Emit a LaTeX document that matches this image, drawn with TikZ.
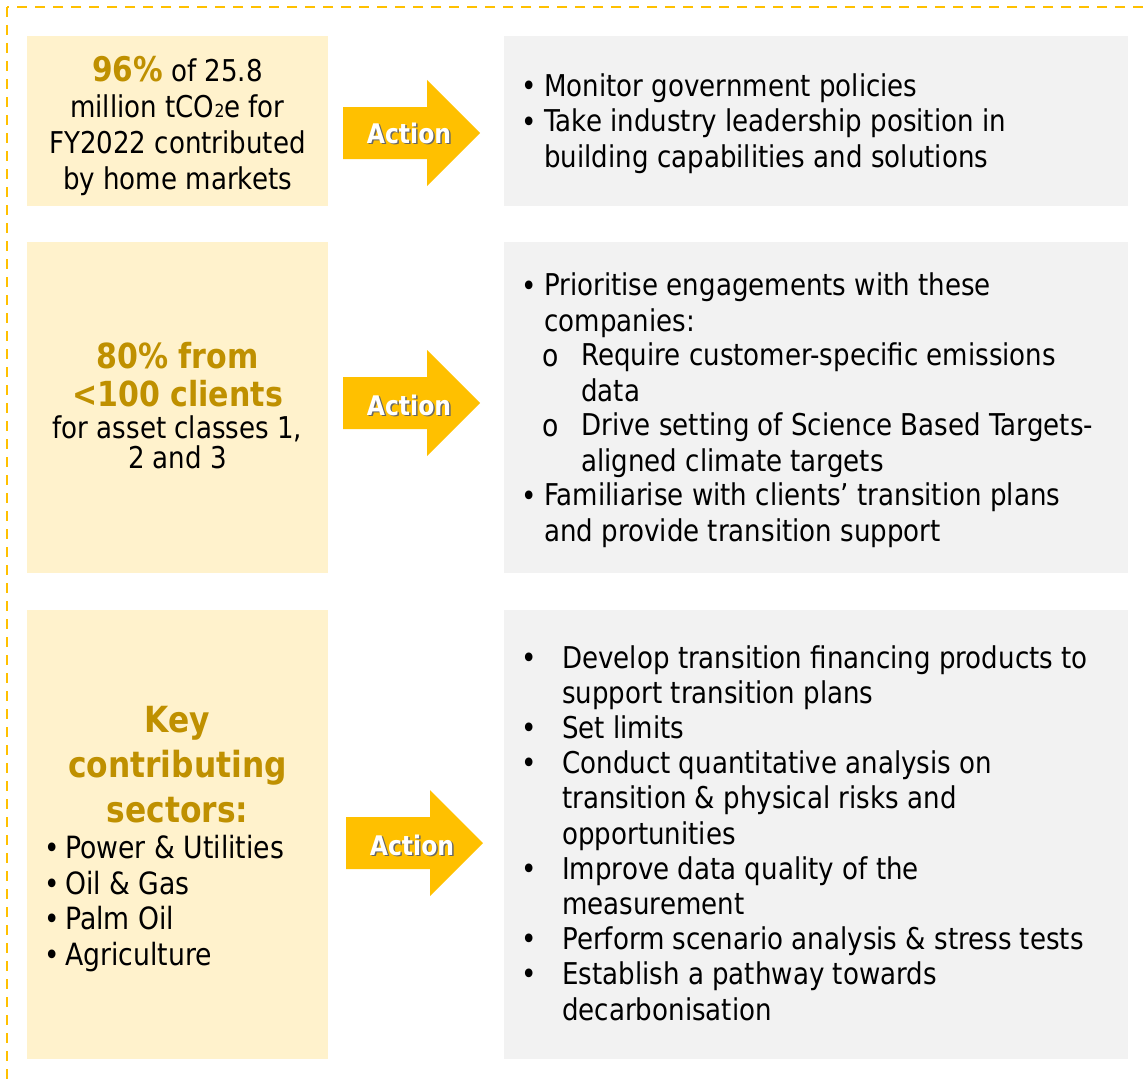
\documentclass[tikz,border=0pt]{standalone}
\usepackage{fontspec}
\setmainfont{DejaVu Sans}[FakeStretch=0.87]
\usepackage{tikz}
\definecolor{framegold}{RGB}{255,192,0}
\definecolor{paleyellow}{RGB}{255,242,204}
\definecolor{panelgrey}{RGB}{242,242,242}
\definecolor{darkgold}{RGB}{191,144,0}

\begin{document}
\begin{tikzpicture}[x=0.75pt, y=-0.75pt,
    lead/.style={fill=paleyellow},
    panel/.style={fill=panelgrey},
    go/.style={fill=framegold},
    body/.style={inner sep=0pt, anchor=base west, align=left, font=\fontsize{22.5}{26.4}\selectfont},
    dot/.style={inner sep=0pt, anchor=base, font=\fontsize{22.5}{26.4}\selectfont},
    ring/.style={inner sep=0pt, anchor=base, font=\fontsize{23}{24}\selectfont},
    keyline/.style={inner sep=0pt, anchor=base, align=center, text=darkgold},
    action/.style={inner sep=0pt, text=white, font=\fontsize{20.25}{22}\selectfont\bfseries}]
    \useasboundingbox (0,0) rectangle (1145,1081);
    \clip (0,0) rectangle (1145,1081);

    % outer dashed frame
    \draw[framegold, line width=1.9pt, dash pattern=on 7.5pt off 6pt] (7,7) rectangle (1165,1100);

    % left and right panels
    \fill[lead] (27,36) rectangle (328,206);
    \fill[panel] (504,36) rectangle (1128,206);
    \fill[lead] (27,242) rectangle (328,573);
    \fill[panel] (504,242) rectangle (1128,573);
    \fill[lead] (27,610) rectangle (328,1059);
    \fill[panel] (504,610) rectangle (1128,1059);

    % block arrows
    \coordinate (tail1) at (343,133);
    \coordinate (tail2) at (343,403);
    \coordinate (tail3) at (346,843);
    \fill[go] (tail1) ++(0,-26) -- ++(84,0) -- ++(0,-27) -- ++(53,53) -- ++(-53,53) -- ++(0,-27) -- ++(-84,0) -- cycle;
    \fill[go] (tail2) ++(0,-26) -- ++(84,0) -- ++(0,-27) -- ++(53,53) -- ++(-53,53) -- ++(0,-27) -- ++(-84,0) -- cycle;
    \fill[go] (tail3) ++(0,-26) -- ++(84,0) -- ++(0,-27) -- ++(53,53) -- ++(-53,53) -- ++(0,-27) -- ++(-84,0) -- cycle;
    \node[action, text=black!60] (act1s) at (410.5,134.5) {Action};
    \node[action] (act1) at (409,133) {Action};
    \node[action, text=black!60] (act2s) at (410.5,406.5) {Action};
    \node[action] (act2) at (409,405) {Action};
    \node[action, text=black!60] (act3s) at (413.5,846.5) {Action};
    \node[action] (act3) at (412,845) {Action};

    % first row (multi-line nodes sit on their last baseline)
    \node[keyline, text=black, font=\fontsize{22.5}{26.8}\selectfont] (share) at (177.5,189)
        {{\fontsize{25.5}{26.8}\selectfont\bfseries\color{darkgold}96\%} of 25.8\\
         million tCO{\fontsize{13.5}{14}\selectfont 2}e for\\
         FY2022 contributed\\
         by home markets};
    \node[dot] (b11) at (529,97) {\textbullet};
    \node[body] (t11) at (544,97) {Monitor government policies};
    \node[dot] (b12) at (529,132) {\textbullet};
    \node[body] (t12) at (544,167) {Take industry leadership position in\\building capabilities and solutions};

    % second row
    \node[keyline, font=\fontsize{25.9}{28.5}\selectfont\bfseries] (clients) at (177.5,406)
        {80\% from\\<100 clients};
    \node[keyline, text=black, font=\fontsize{22.5}{22.5}\selectfont] (classes) at (177.5,468)
        {for asset classes 1,\\2 and 3};
    \node[dot] (b21) at (529,296) {\textbullet};
    \node[body] (t21) at (544,331) {Prioritise engagements with these\\companies:};
    \node[ring] (r21) at (551,366) {o};
    \node[body] (t22) at (581,401) {Require customer-specific emissions\\data};
    \node[ring] (r22) at (551,436) {o};
    \node[body] (t23) at (581,471) {Drive setting of Science Based Targets-\\aligned climate targets};
    \node[dot] (b22) at (529,506) {\textbullet};
    \node[body] (t24) at (544,541) {Familiarise with clients’ transition plans\\and provide transition support};

    % third row
    \node[keyline, font=\fontsize{27}{33.4}\selectfont\bfseries] (sectors) at (177.5,822)
        {Key\\contributing\\sectors:};
    \node[dot] (b31) at (52,858) {\textbullet};
    \node[body, font=\fontsize{23}{26.7}\selectfont] (s31) at (65,858) {Power \& Utilities};
    \node[dot] (b32) at (52,894) {\textbullet};
    \node[body, font=\fontsize{23}{26.7}\selectfont] (s32) at (65,894) {Oil \& Gas};
    \node[dot] (b33) at (52,929) {\textbullet};
    \node[body, font=\fontsize{23}{26.7}\selectfont] (s33) at (65,929) {Palm Oil};
    \node[dot] (b34) at (52,965) {\textbullet};
    \node[body, font=\fontsize{23}{26.7}\selectfont] (s34) at (65,965) {Agriculture};

    \node[dot] (b41) at (529,668) {\textbullet};
    \node[body] (t41) at (562,703.2) {Develop transition financing products to\\support transition plans};
    \node[dot] (b42) at (529,738.4) {\textbullet};
    \node[body] (t42) at (562,738.4) {Set limits};
    \node[dot] (b43) at (529,773.6) {\textbullet};
    \node[body] (t43) at (562,844) {Conduct quantitative analysis on\\transition \& physical risks and\\opportunities};
    \node[dot] (b44) at (529,879.2) {\textbullet};
    \node[body] (t44) at (562,914.4) {Improve data quality of the\\measurement};
    \node[dot] (b45) at (529,949.6) {\textbullet};
    \node[body] (t45) at (562,949.6) {Perform scenario analysis \& stress tests};
    \node[dot] (b46) at (529,984.8) {\textbullet};
    \node[body] (t46) at (562,1020) {Establish a pathway towards\\decarbonisation};
\end{tikzpicture}
\end{document}
